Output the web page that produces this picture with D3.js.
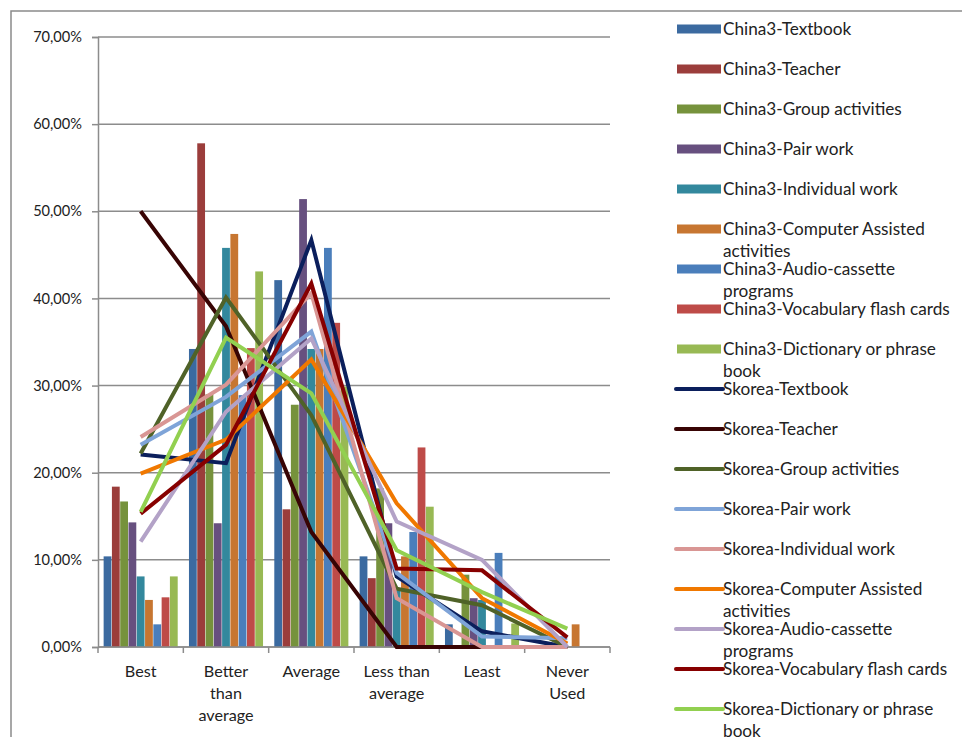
<!DOCTYPE html>
<html>
<head>
<meta charset="utf-8">
<script src="https://cdn.jsdelivr.net/npm/d3@7/dist/d3.min.js"></script>
<style>
  html, body { margin: 0; padding: 0; background: #fff; }
  svg { display: block; font-family: Lato, "Open Sans", "Liberation Sans", sans-serif; }
</style>
</head>
<body>
<svg id="chart" width="962" height="737"></svg>
<script>
// Rating categories along the x axis (each entry is one label, split into lines)
const categories = ["Best", "Better than average", "Average", "Less than average", "Least", "Never Used"];
const categoryLines = [["Best"], ["Better", "than", "average"], ["Average"], ["Less than", "average"], ["Least"], ["Never", "Used"]];

// Learning-resource names shared by both groups
const resources = ["Textbook", "Teacher", "Group activities", "Pair work", "Individual work",
  "Computer Assisted activities", "Audio-cassette programs", "Vocabulary flash cards", "Dictionary or phrase book"];

// China3 results, percent per category (drawn as clustered bars)
const china3Textbook   = [10.4, 34.2, 42.1, 10.4, 2.6, 0];
const china3Teacher    = [18.4, 57.8, 15.8, 7.9, 0, 0];
const china3Group      = [16.7, 29.0, 27.8, 18.2, 8.3, 0];
const china3Pair       = [14.3, 14.2, 51.4, 14.2, 5.6, 0];
const china3Individual = [8.1, 45.8, 34.2, 6.5, 5.4, 0];
const china3Computer   = [5.4, 47.4, 34.2, 10.4, 0, 2.6];
const china3Audio      = [2.6, 28.9, 45.8, 13.2, 10.8, 0];
const china3Vocabulary = [5.7, 34.3, 37.2, 22.9, 0, 0];
const china3Dictionary = [8.1, 43.1, 29.9, 16.1, 2.7, 0];

// Skorea results, percent per category (drawn as lines)
const skoreaTextbook   = [22.1, 21.1, 46.7, 8.1, 1.8, 0];
const skoreaTeacher    = [50.0, 36.8, 13.2, 0, 0, 0];
const skoreaGroup      = [22.2, 40.1, 26.6, 6.7, 4.8, 0];
const skoreaPair       = [23.2, 28.7, 36.2, 8.5, 1.2, 1.0];
const skoreaIndividual = [24.1, 30.1, 40.6, 5.6, 0, 0];
const skoreaComputer   = [19.9, 23.8, 33.0, 16.5, 5.6, 0.4];
const skoreaAudio      = [12.1, 27.0, 35.4, 14.4, 10.0, 0];
const skoreaVocabulary = [15.3, 23.2, 41.7, 9.0, 8.8, 1.1];
const skoreaDictionary = [15.5, 35.5, 29.1, 11.1, 6.3, 2.1];

// Y axis ticks
const yTicks = [0, 10, 20, 30, 40, 50, 60, 70];

const barColors  = ["#3b6aa0", "#9b3d3b", "#76923c", "#67507f", "#33889d", "#c77631", "#4a7ebb", "#be4b48", "#98b954"];
const lineColors = ["#0b1f5c", "#380404", "#4f6228", "#7fa4d8", "#d99694", "#f07800", "#b3a2c7", "#870000", "#92d050"];

const china3Values = [china3Textbook, china3Teacher, china3Group, china3Pair, china3Individual,
  china3Computer, china3Audio, china3Vocabulary, china3Dictionary];
const skoreaValues = [skoreaTextbook, skoreaTeacher, skoreaGroup, skoreaPair, skoreaIndividual,
  skoreaComputer, skoreaAudio, skoreaVocabulary, skoreaDictionary];

const barSeries = resources.map((r, i) => ({ name: "China3-" + r, values: china3Values[i], color: barColors[i] }));
const lineSeries = resources.map((r, i) => ({ name: "Skorea-" + r, values: skoreaValues[i], color: lineColors[i] }));

const svg = d3.select("#chart");
const plot = { left: 98, right: 610, top: 37, bottom: 647 };

// Chart frame
svg.append("rect").attr("x", 11).attr("y", 11).attr("width", 1000).attr("height", 800)
  .attr("fill", "none").attr("stroke", "#8a8a8a").attr("stroke-width", 1.5);

const x0 = d3.scaleBand().domain(categories).range([plot.left, plot.right]);
const x1 = d3.scaleBand().domain(d3.range(barSeries.length))
  .range([x0.bandwidth() * 0.066, x0.bandwidth() * 0.934]).paddingInner(0.06);
const y = d3.scaleLinear().domain([0, 70]).range([plot.bottom, plot.top]);

const pctFormat = d3.formatLocale({ decimal: ",", thousands: ".", grouping: [3], currency: ["", ""] }).format(".2f");

// Gridlines
svg.append("g").selectAll("line").data(yTicks).join("line")
  .attr("x1", plot.left).attr("x2", plot.right)
  .attr("y1", d => y(d)).attr("y2", d => y(d))
  .attr("stroke", "#8c8c8c").attr("stroke-width", 1.5);

// Y axis
const yAxis = svg.append("g").attr("transform", `translate(${plot.left},0)`)
  .call(d3.axisLeft(y).tickValues(yTicks).tickSize(6).tickPadding(10).tickFormat(d => pctFormat(d) + "%"));
yAxis.select(".domain").attr("stroke", "#8c8c8c").attr("stroke-width", 1.5);
yAxis.selectAll(".tick line").attr("stroke", "#8c8c8c").attr("stroke-width", 1.5);
yAxis.selectAll(".tick text").attr("fill", "#222").style("font-size", "14.6px")
  .style("font-family", "Lato, 'Open Sans', sans-serif");

// Bars
const groups = svg.append("g").selectAll("g").data(categories).join("g")
  .attr("transform", d => `translate(${x0(d)},0)`);
groups.selectAll("rect")
  .data((c, ci) => barSeries.map((s, si) => ({ si, v: s.values[ci], color: s.color })))
  .join("rect")
  .attr("x", d => x1(d.si)).attr("width", x1.bandwidth())
  .attr("y", d => y(d.v)).attr("height", d => y(0) - y(d.v))
  .attr("fill", d => d.color);

// X axis (category boundary ticks)
const xAxisG = svg.append("g").attr("transform", `translate(0,${plot.bottom})`);
xAxisG.append("line").attr("x1", plot.left).attr("x2", plot.right)
  .attr("stroke", "#8c8c8c").attr("stroke-width", 1.5);
xAxisG.selectAll("line.tk").data(categories.map((c, i) => i).concat([categories.length])).join("line")
  .attr("class", "tk")
  .attr("x1", i => i < categories.length ? x0(categories[i]) : plot.right)
  .attr("x2", i => i < categories.length ? x0(categories[i]) : plot.right)
  .attr("y1", 0).attr("y2", 6).attr("stroke", "#8c8c8c").attr("stroke-width", 1.5);
categories.forEach((c, i) => {
  const t = xAxisG.append("text").attr("text-anchor", "middle")
    .attr("fill", "#222").style("font-size", "16.2px");
  categoryLines[i].forEach((ln, li) => {
    t.append("tspan").attr("x", x0(c) + x0.bandwidth() / 2).attr("y", 30 + li * 22).text(ln);
  });
});

// Lines
const lineGen = d3.line()
  .x((d, i) => x0(categories[i]) + x0.bandwidth() / 2)
  .y(d => y(d));
svg.append("g").selectAll("path").data(lineSeries).join("path")
  .attr("d", d => lineGen(d.values))
  .attr("fill", "none").attr("stroke", d => d.color)
  .attr("stroke-width", 4).attr("stroke-linejoin", "miter").attr("stroke-linecap", "butt");

// Legend
const legendItems = barSeries.map(s => ({ ...s, kind: "bar" })).concat(lineSeries.map(s => ({ ...s, kind: "line" })));
const wrapAt = { "Computer Assisted activities": ["Computer Assisted", "activities"],
  "Audio-cassette programs": ["Audio-cassette", "programs"],
  "Dictionary or phrase book": ["Dictionary or phrase", "book"] };
const legend = svg.append("g");
legendItems.forEach((it, i) => {
  const cy = 29 + i * 40;
  const g = legend.append("g");
  if (it.kind === "bar") {
    g.append("rect").attr("x", 677).attr("y", cy - 4.5).attr("width", 44).attr("height", 9).attr("fill", it.color);
  } else {
    g.append("line").attr("x1", 676).attr("x2", 723).attr("y1", cy).attr("y2", cy)
      .attr("stroke", it.color).attr("stroke-width", 4).attr("stroke-linecap", "round");
  }
  const prefix = it.name.split("-")[0] + "-";
  const rest = it.name.slice(prefix.length);
  const lines = wrapAt[rest] ? [prefix + wrapAt[rest][0], wrapAt[rest][1]] : [it.name];
  const t = g.append("text").attr("fill", "#222").style("font-size", "17.2px");
  lines.forEach((ln, li) => t.append("tspan").attr("x", 723).attr("y", cy + 6 + li * 22).text(ln));
});
</script>
</body>
</html>
